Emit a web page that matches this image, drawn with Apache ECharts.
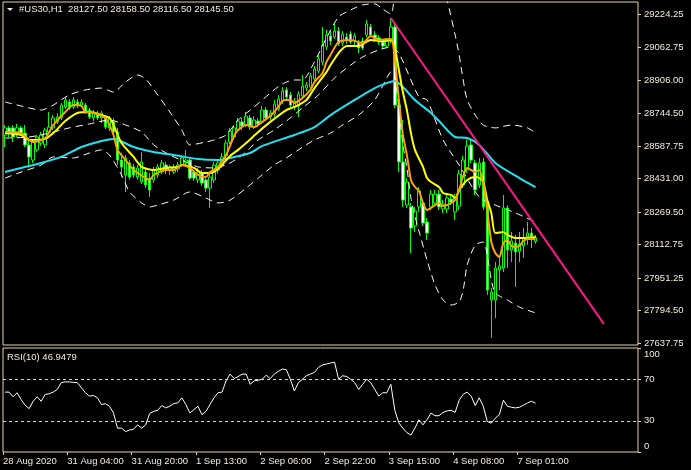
<!DOCTYPE html>
<html><head><meta charset="utf-8">
<script src="https://cdn.jsdelivr.net/npm/echarts@6/dist/echarts.min.js"></script>
<style>html,body{margin:0;padding:0;background:#000;}#c{width:691px;height:470px;}</style>
</head><body><div id="c"></div>
<script>
// ---- header texts ----
const headerText = '#US30,H1  28127.50 28158.50 28116.50 28145.50';
const rsiText = 'RSI(10) 46.9479';
const lastPrice = 28145.50;

// ---- axis tick labels ----
const priceTicks = ['29224.25','29062.75','28906.00','28744.50','28587.75','28431.00','28269.50','28112.75','27951.25','27794.50','27637.75'];
const rsiTicks = ['0','30','70','100'];
const dateLabels = ['28 Aug 2020','31 Aug 04:00','31 Aug 20:00','1 Sep 13:00','2 Sep 06:00','2 Sep 22:00','3 Sep 15:00','4 Sep 08:00','7 Sep 01:00'];

// ---- H1 candles (bar 0 .. 132) ----
const opens = [
28641,28675,28675,28641,28675,28650,28593,28520,28569,28602,
28593,28655,28675,28704,28723,28776,28800,28776,28800,28785,
28785,28761,28723,28747,28723,28728,28675,28704,28655,28520,
28448,28506,28487,28438,28414,28462,28433,28424,28448,28462,
28496,28472,28462,28477,28496,28506,28520,28462,28424,28458,
28424,28385,28424,28472,28496,28540,28607,28631,28665,28704,
28689,28723,28679,28708,28704,28761,28728,28742,28766,28805,
28858,28834,28776,28781,28829,28867,28872,28911,28949,28993,
29065,29118,29113,29142,29084,29113,29128,29094,29089,29094,
29123,29162,29123,29109,29089,29070,29094,29162,28785,28511,
28303,28294,28202,28294,28313,28221,28294,28313,28356,28284,
28284,28332,28270,28298,28400,28472,28593,28506,28400,28511,
28294,27845,27845,27990,27999,28289,28086,28120,28081,28106,
28149,28168,28127.5];
const closes = [
28675,28650,28631,28675,28650,28593,28535,28607,28631,28641,
28665,28679,28723,28728,28785,28810,28771,28810,28785,28800,
28752,28728,28752,28723,28747,28679,28723,28655,28520,28487,
28530,28438,28448,28482,28511,28400,28376,28472,28487,28506,
28472,28487,28482,28496,28530,28520,28433,28433,28462,28409,
28385,28438,28496,28506,28535,28602,28660,28675,28708,28684,
28732,28679,28713,28694,28761,28723,28747,28790,28814,28853,
28824,28785,28805,28839,28877,28882,28925,28959,29007,29075,
29123,29094,29142,29080,29128,29099,29089,29118,29060,29060,
29176,29123,29104,29089,29070,29094,29162,28785,28511,28327,
28414,28192,28274,28371,28216,28168,28356,28356,28294,28308,
28337,28318,28337,28453,28520,28588,28520,28376,28506,28294,
27893,27884,27999,28009,28289,28086,28130,28077,28115,28144,
28168,28139,28145.5];
const highs = [
28689,28684,28689,28694,28684,28689,28626,28617,28641,28655,
28675,28752,28737,28747,28795,28824,28814,28824,28814,28814,
28795,28771,28761,28757,28757,28737,28732,28723,28675,28554,
28544,28520,28501,28496,28559,28482,28458,28487,28501,28520,
28511,28496,28501,28511,28544,28569,28535,28472,28482,28472,
28443,28458,28511,28520,28554,28617,28675,28689,28723,28723,
28752,28737,28732,28723,28781,28776,28761,28810,28834,28872,
28872,28848,28819,28853,28930,28896,28940,28974,29027,29162,
29147,29142,29176,29162,29142,29133,29142,29133,29099,29109,
29195,29176,29142,29123,29099,29109,29205,29186,28810,28713,
28433,28313,28294,28390,28327,28241,28376,28376,28376,28327,
28352,28347,28356,28472,28540,28617,28617,28520,28530,28530,
28327,27903,28028,28052,28352,28303,28173,28159,28173,28192,
28221,28192,28158.5];
const lows = [
28583,28631,28607,28631,28641,28583,28496,28506,28559,28588,
28578,28646,28665,28694,28713,28766,28761,28766,28771,28776,
28742,28718,28708,28713,28699,28670,28660,28646,28496,28438,
28366,28424,28433,28424,28405,28385,28342,28409,28433,28453,
28453,28448,28453,28462,28487,28487,28424,28419,28409,28395,
28366,28289,28409,28453,28482,28530,28597,28617,28655,28665,
28679,28665,28670,28679,28694,28708,28713,28728,28757,28790,
28814,28776,28761,28728,28819,28853,28863,28896,28940,28978,
29051,29075,29104,29070,29070,29080,29080,29075,29036,29051,
29113,29113,29089,29075,29055,29060,29084,28771,28462,28294,
28289,28072,28173,28270,28202,28134,28279,28298,28279,28265,
28265,28303,28231,28279,28385,28458,28506,28352,28385,28279,
27869,27662,27758,27893,27980,27999,28028,27908,28028,28048,
28110,28096,28116.5];

// ---- indicator lines: [bar, value] ----
const maFast = [[0,28655],[4,28650],[6,28617],[7,28607],[10,28626],[12,28689],[15,28752],[17,28785],[19,28781],[20,28752],[22,28747],[25,28723],[26,28689],[27,28641],[28,28569],[30,28520],[32,28472],[35,28433],[36,28424],[37,28448],[40,28472],[42,28472],[44,28496],[46,28482],[48,28448],[50,28438],[51,28462],[53,28487],[55,28544],[57,28636],[58,28665],[60,28689],[62,28679],[64,28704],[66,28732],[68,28776],[69,28805],[70,28810],[71,28810],[72,28795],[74,28819],[76,28858],[77,28896],[79,28940],[80,28993],[81,29027],[83,29089],[86,29099],[89,29084],[91,29118],[93,29099],[96,29104],[97,29002],[98,28810],[99,28641],[100,28544],[101,28424],[102,28390],[103,28371],[104,28313],[105,28279],[106,28289],[107,28303],[108,28313],[109,28298],[110,28303],[111,28313],[112,28327],[113,28376],[114,28443],[115,28482],[116,28472],[117,28462],[118,28472],[119,28409],[120,28279],[121,28125],[122,28072],[123,28052],[124,28120],[125,28134],[126,28106],[127,28101],[128,28106],[129,28130],[130,28139],[131,28139],[132,28139]];
const maMid = [[0,28650],[4,28641],[6,28617],[10,28622],[12,28650],[15,28708],[18,28747],[21,28752],[24,28737],[26,28723],[27,28689],[29,28602],[32,28535],[34,28487],[37,28472],[40,28482],[43,28487],[44,28496],[47,28482],[49,28458],[51,28458],[53,28477],[56,28540],[58,28569],[60,28602],[63,28655],[66,28704],[70,28761],[72,28776],[75,28810],[77,28867],[80,28945],[81,28978],[83,29036],[85,29070],[88,29070],[91,29099],[94,29094],[96,29099],[97,29060],[98,28954],[99,28848],[100,28761],[101,28650],[102,28569],[104,28487],[105,28433],[106,28414],[108,28390],[109,28361],[111,28352],[112,28337],[113,28376],[115,28424],[117,28438],[118,28433],[119,28414],[120,28327],[121,28265],[122,28168],[124,28173],[125,28159],[127,28144],[129,28144],[132,28149]];
const maSlow = [[0,28462],[4,28482],[9,28506],[14,28535],[19,28583],[24,28612],[27,28622],[32,28583],[37,28559],[42,28544],[48,28525],[53,28520],[56,28530],[61,28554],[64,28588],[72,28641],[77,28679],[81,28737],[87,28810],[92,28867],[95,28891],[97,28901],[99,28872],[102,28810],[106,28747],[108,28708],[112,28631],[115,28626],[118,28593],[122,28506],[128,28433],[132,28390]];
const bbUpper = [[0,28800],[4,28781],[9,28761],[12,28785],[16,28834],[20,28858],[24,28867],[27,28848],[30,28896],[33,28930],[35,28911],[38,28834],[41,28752],[44,28665],[46,28593],[50,28607],[52,28617],[55,28641],[58,28713],[62,28776],[66,28843],[69,28887],[72,28906],[74,28906],[77,28993],[80,29109],[83,29210],[86,29244],[89,29268],[92,29273],[94,29248],[96,29224],[98,29364],[109,29364],[110,29292],[112,29123],[113,29027],[114,28906],[115,28810],[117,28737],[119,28689],[122,28675],[126,28689],[130,28675],[132,28650]];
const bbMiddle = [[0,28626],[6,28631],[11,28650],[16,28675],[21,28694],[26,28713],[30,28689],[34,28655],[37,28593],[41,28544],[45,28511],[48,28487],[52,28482],[56,28506],[60,28559],[63,28617],[67,28665],[71,28723],[74,28771],[78,28834],[82,28916],[86,28978],[89,29017],[93,29051],[96,29065],[98,29036],[103,28824],[105,28810],[109,28617],[113,28496],[118,28342],[122,28303],[127,28265],[132,28221]];
const bbLower = [[0,28433],[4,28462],[9,28496],[12,28535],[17,28530],[21,28554],[24,28569],[26,28544],[29,28448],[31,28366],[34,28313],[36,28294],[38,28303],[42,28327],[46,28366],[50,28337],[53,28313],[56,28327],[60,28385],[63,28433],[67,28496],[70,28530],[73,28569],[77,28617],[81,28650],[84,28689],[88,28737],[92,28810],[95,28916],[96,28945],[97,28925],[98,28766],[99,28593],[100,28482],[101,28337],[102,28250],[103,28178],[105,28038],[107,27918],[109,27845],[111,27821],[113,27836],[114,27893],[115,28014],[117,28110],[119,28125],[120,28062],[121,27942],[122,27879],[125,27845],[128,27811],[132,27783]];
const trendLine = [[96,29205],[149,27730]];

// ---- RSI(10) per bar ----
const rsi = [
57.6,57.6,53.1,57.0,50.5,45.0,41.7,48.8,53.1,48.8,
55.4,56.0,57.6,60.2,66.7,67.4,67.4,67.0,66.7,61.9,
57.0,53.7,54.4,52.1,45.6,46.5,44.0,37.5,22.9,22.9,
19.6,21.2,21.9,26.1,22.9,26.1,37.0,39.1,40.0,44.6,
42.4,44.0,46.6,47.2,52.1,45.6,37.5,40.7,44.0,35.9,
39.1,45.6,52.1,57.0,57.6,68.4,74.9,70.6,72.5,74.9,
74.9,65.1,68.4,69.0,70.0,73.9,70.6,74.9,77.5,79.8,
79.1,70.0,58.6,66.7,70.0,73.3,75.0,76.5,81.4,83.7,
84.6,85.6,86.3,70.0,73.3,72.6,70.0,66.7,60.2,65.1,
70.0,66.7,60.2,53.7,57.0,57.0,65.1,40.0,28.0,22.9,
18.6,16.3,22.9,31.0,26.1,31.0,37.5,34.9,34.9,38.1,
39.5,40.1,38.1,49.8,55.4,57.6,53.7,44.6,52.1,44.0,
29.4,27.7,32.6,35.9,49.8,44.0,43.0,42.4,43.0,45.0,
47.2,48.8,46.9];

// ---- build ----
const SLOTS = 158;
const FONT = "'Liberation Sans', Arial, sans-serif";
const FS = 9.5;
const TXT = '#f4ecdc';
const BORDER = '#e8d3a4';
const cats = Array.from({length: SLOTS}, (_, i) => 'b' + i);
const labelCats = Array.from({length: SLOTS + 1}, (_, i) => 'e' + i);
const candleData = opens.map((o, i) => [o, closes[i], lows[i], highs[i]]);
const priceVals = priceTicks.map(Number);
const rsiVals = rsiTicks.map(Number);

const chart = echarts.init(document.getElementById('c'), null, {renderer: 'canvas'});
const lineS = (data, color, width, type, z) => ({
  type: 'line', xAxisIndex: 0, yAxisIndex: 0, data, showSymbol: false, symbol: 'none',
  smooth: 0.25, lineStyle: {color, width, type: type || 'solid'}, z: z || 3, silent: true, clip: true
});
const txt = {color: TXT, fontSize: FS, fontFamily: FONT};

chart.setOption({
  backgroundColor: '#000',
  animation: false,
  title: [
    {text: headerText, left: 19, top: 4, padding: 0, textStyle: Object.assign({fontWeight: 'normal'}, txt)},
    {text: rsiText, left: 7, top: 352, padding: 0, textStyle: Object.assign({fontWeight: 'normal'}, txt)}
  ],
  graphic: [{type: 'polygon', shape: {points: [[7, 8], [13, 8], [10, 11]]}, style: {fill: TXT}}],
  grid: [
    {left: 3, right: 53, top: 2, height: 343, show: true, borderColor: BORDER, borderWidth: 1, backgroundColor: '#000'},
    {left: 3, right: 53, top: 348, height: 104, show: true, borderColor: BORDER, borderWidth: 1, backgroundColor: '#000'}
  ],
  xAxis: [
    {type: 'category', gridIndex: 0, data: cats, boundaryGap: true, show: false},
    {type: 'category', gridIndex: 1, data: cats, boundaryGap: true, show: false},
    {type: 'category', gridIndex: 1, data: labelCats, boundaryGap: false, position: 'bottom',
      axisLine: {show: false},
      axisTick: {show: true, length: 3, inside: false, interval: (i) => i % 16 === 0 && i / 16 < dateLabels.length, lineStyle: {color: BORDER}},
      axisLabel: Object.assign({show: true, interval: (i) => i % 16 === 0 && i / 16 < dateLabels.length, align: 'left', margin: 4,
        formatter: (v, i) => dateLabels[i / 16] || ''}, txt),
      splitLine: {show: false}}
  ],
  yAxis: [
    {type: 'value', gridIndex: 0, position: 'right', min: 27628.2, max: 29282.1, scale: true,
      axisLine: {show: false}, splitLine: {show: false},
      axisTick: {show: true, length: 3, customValues: priceVals, lineStyle: {color: BORDER}},
      axisLabel: Object.assign({show: true, customValues: priceVals, margin: 6,
        formatter: (v) => priceTicks[priceVals.indexOf(v)] || v.toFixed(2)}, txt)},
    {type: 'value', gridIndex: 1, position: 'right', min: 0, max: 100,
      axisLine: {show: false}, splitLine: {show: false},
      axisTick: {show: true, length: 3, customValues: rsiVals, lineStyle: {color: BORDER}},
      axisLabel: Object.assign({show: true, customValues: rsiVals, margin: 6,
        formatter: (v) => v === 100 ? '{t|100}' : v === 0 ? '{b|0}' : String(v),
        rich: {t: Object.assign({padding: [13, 0, 0, 0]}, txt),
               b: Object.assign({padding: [0, 0, 12, 0]}, txt)}}, txt)}
  ],
  series: [
    {type: 'candlestick', xAxisIndex: 0, yAxisIndex: 0, data: candleData, barWidth: 3, silent: true, z: 2,
      itemStyle: {color: '#000', color0: '#fff', borderColor: '#00ff00', borderColor0: '#00ff00', borderWidth: 1},
      markLine: {silent: true, symbol: 'none', animation: false,
        lineStyle: {opacity: 0},
        label: {show: true, position: 'end', distance: 1, formatter: lastPrice.toFixed(2),
          backgroundColor: '#ffe3b3', color: '#000', fontSize: FS, fontFamily: FONT, padding: [2, 4, 1, 4]},
        data: [{yAxis: lastPrice}]}},
    lineS(bbUpper, '#ffffff', 1, [7, 5], 3),
    lineS(bbMiddle, '#ffffff', 1, [7, 5], 3),
    lineS(bbLower, '#ffffff', 1, [7, 5], 3),
    lineS(maSlow, '#1fe3f0', 2, 'solid', 4),
    lineS(maMid, '#ffff00', 2, 'solid', 5),
    lineS(maFast, '#ff9f0a', 2, 'solid', 6),
    {type: 'line', xAxisIndex: 0, yAxisIndex: 0, data: trendLine, showSymbol: false, symbol: 'none', silent: true,
      lineStyle: {color: '#ff168c', width: 2}, z: 7},
    {type: 'line', xAxisIndex: 1, yAxisIndex: 1, data: rsi, showSymbol: false, symbol: 'none', silent: true,
      lineStyle: {color: '#ffffff', width: 1}, z: 3,
      markLine: {silent: true, symbol: 'none', animation: false, label: {show: false},
        lineStyle: {color: '#d8d8d8', type: [3, 3], width: 1},
        data: [{yAxis: 30}, {yAxis: 70}]}}
  ]
});
</script></body></html>
